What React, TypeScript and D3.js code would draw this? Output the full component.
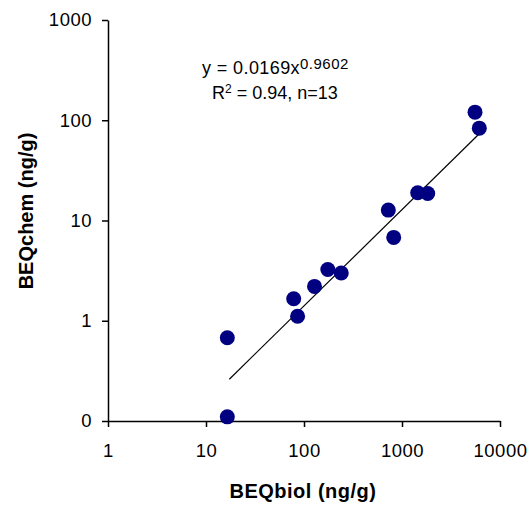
import * as d3 from "d3";
import { useEffect, useRef } from "react";

// BEQbiol (x) vs BEQchem (y), both ng/g
const beqBiol = [16.5, 16.5, 78.5, 86, 128, 175, 240, 725, 823, 1446, 1830, 5560, 6150];
const beqChem = [0.677, 0.11, 1.66, 1.11, 2.2, 3.25, 2.99, 12.7, 6.78, 18.9, 18.6, 120.5, 83.4];

const xTicks = [1, 10, 100, 1000, 10000];
const xTickLabels = ["1", "10", "100", "1000", "10000"];
const yTicks = [0.1, 1, 10, 100, 1000];
const yTickLabels = ["0", "1", "10", "100", "1000"];

// power trendline y = a * x^b drawn over the data range
const fitA = 0.0169;
const fitB = 0.9602;
const fitRange = [17.3, 6760];

const FONT = "'Liberation Sans', Arial, sans-serif";

const App = () => {
  const ref = useRef<SVGSVGElement | null>(null);

  useEffect(() => {
    const svg = d3.select(ref.current);
    svg.selectAll("*").remove();

    const x = d3.scaleLog().domain([1, 10000]).range([108, 500]);
    const y = d3.scaleLog().domain([0.1, 1000]).range([421, 20]);

    // y axis
    const gy = svg.append("g")
      .attr("transform", "translate(108,0)")
      .call(d3.axisLeft(y)
        .tickValues(yTicks)
        .tickFormat((d, i) => yTickLabels[i])
        .tickSize(6)
        .tickSizeOuter(0)
        .tickPadding(10));

    // x axis
    const gx = svg.append("g")
      .attr("transform", "translate(0,421)")
      .call(d3.axisBottom(x)
        .tickValues(xTicks)
        .tickFormat((d, i) => xTickLabels[i])
        .tickSize(6)
        .tickSizeOuter(0)
        .tickPadding(17));

    [gx, gy].forEach((g) => {
      g.select(".domain").attr("stroke", "#000").attr("stroke-width", 1.5);
      g.selectAll(".tick line").attr("stroke", "#000").attr("stroke-width", 1.5);
      g.selectAll(".tick text")
        .attr("fill", "#000")
        .style("font-family", FONT)
        .style("font-size", "18.5px")
        .style("letter-spacing", "0.5px");
    });

    // trendline
    const fitPts = fitRange.map((v) => [v, fitA * Math.pow(v, fitB)]);
    svg.append("path")
      .datum(fitPts)
      .attr("fill", "none")
      .attr("stroke", "#000")
      .attr("stroke-width", 1.2)
      .attr("d", d3.line<number[]>()
        .x((d) => x(d[0]))
        .y((d) => y(d[1])));

    // points
    svg.append("g")
      .selectAll("circle")
      .data(beqBiol)
      .enter()
      .append("circle")
      .attr("cx", (d) => x(d))
      .attr("cy", (d, i) => y(beqChem[i]))
      .attr("r", 7.5)
      .attr("fill", "#000080");

    // equation
    const eq = svg.append("text")
      .attr("x", 202)
      .attr("y", 74)
      .style("font-family", FONT)
      .style("font-size", "18px")
      .style("letter-spacing", "0.4px");
    eq.append("tspan").text("y = 0.0169x");
    eq.append("tspan").attr("dy", -5).style("font-size", "15px").style("letter-spacing", "0.5px").text("0.9602");

    const r2 = svg.append("text")
      .attr("x", 212)
      .attr("y", 99)
      .style("font-family", FONT)
      .style("font-size", "18px");
    r2.append("tspan").text("R");
    r2.append("tspan").attr("dy", -6).style("font-size", "12px").text("2");
    r2.append("tspan").attr("dy", 6).text(" = 0.94, n=13");

    // axis titles
    svg.append("text")
      .attr("x", 303)
      .attr("y", 498)
      .attr("text-anchor", "middle")
      .style("font-family", FONT)
      .style("font-size", "20px")
      .style("font-weight", "bold")
      .style("letter-spacing", "0.5px")
      .text("BEQbiol (ng/g)");

    svg.append("text")
      .attr("transform", "translate(33,211) rotate(-90)")
      .attr("text-anchor", "middle")
      .style("font-family", FONT)
      .style("font-size", "20px")
      .style("font-weight", "bold")
      .text("BEQchem (ng/g)");
  }, []);

  return (
    <svg
      ref={ref}
      width={532}
      height={514}
      style={{ position: "absolute", left: 0, top: 0, background: "#fff" }}
    />
  );
};

export default App;
